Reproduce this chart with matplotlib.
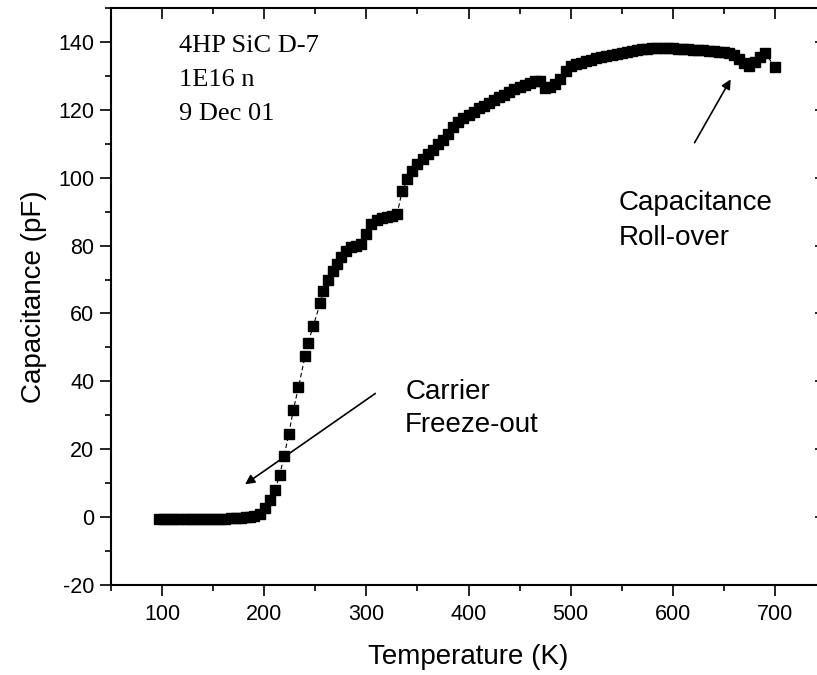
import matplotlib
matplotlib.use('Agg')
import matplotlib.pyplot as plt

plt.rcParams['axes.unicode_minus'] = False

# temperature (K) and capacitance (pF)
temperature = [97, 102, 107, 112, 117, 122, 127, 132, 137, 142, 147, 152, 157, 162,
               167, 172, 177, 182, 186, 190, 196, 201, 205.5, 210.5, 215, 219.5, 224,
               228.5, 233.5, 240, 243, 248, 255, 258, 262, 267, 271, 275, 280, 285,
               290, 295, 300, 305, 310, 315, 320, 325, 330, 335, 340, 345, 350, 355,
               360, 365, 370, 375, 380, 385, 390, 395, 400, 405, 410, 415, 420, 425,
               430, 435, 440, 445, 450, 455, 460, 465, 470, 475, 480, 485, 490, 495,
               500, 505, 510, 515, 520, 525, 530, 535, 540, 545, 550, 555, 560, 565,
               570, 575, 580, 585, 590, 595, 600, 605, 610, 615, 620, 625, 630, 635,
               640, 645, 650, 655, 660, 665, 670, 675, 680, 685, 690, 700]
capacitance = [-0.6, -0.6, -0.6, -0.6, -0.6, -0.6, -0.6, -0.6, -0.6, -0.6, -0.6, -0.5,
               -0.5, -0.5, -0.4, -0.3, -0.2, -0.1, 0.0, 0.3, 1.0, 2.6, 5.0, 8.0, 12.3,
               18.0, 24.4, 31.6, 38.2, 47.5, 51.4, 56.3, 63.2, 66.6, 70.0, 72.5, 74.5,
               76.5, 78.3, 79.5, 80.0, 80.6, 83.5, 86.5, 87.6, 88.0, 88.3, 88.8, 89.2,
               96.0, 99.5, 102.0, 104.0, 105.5, 107.0, 108.3, 109.8, 111.2, 113.0,
               114.8, 116.3, 117.6, 118.5, 119.5, 120.5, 121.2, 122.0, 123.0, 123.8,
               124.5, 125.3, 126.0, 126.8, 127.4, 128.0, 128.4, 128.6, 126.5, 126.8,
               127.6, 129.0, 131.5, 133.0, 133.4, 133.8, 134.3, 134.8, 135.2, 135.6,
               135.9, 136.2, 136.5, 136.8, 137.1, 137.4, 137.6, 137.8, 138.0, 138.1,
               138.2, 138.2, 138.2, 138.1, 138.0, 137.9, 137.8, 137.7, 137.6, 137.5,
               137.4, 137.3, 137.1, 136.9, 136.6, 136.2, 135.0, 133.8, 132.8, 134.0,
               135.5, 136.8, 132.7]

sample_info = ['4HP SiC D-7', '1E16 n', '9 Dec 01']

fig = plt.figure(figsize=(8.17, 6.75), dpi=100)
# axes run past the right edge, as in the cropped original
ax = fig.add_axes([111 / 817, 90 / 675, 715 / 817, 577 / 675])

ax.plot(temperature, capacitance, color='black', lw=0.8, ls=(0, (4, 2.5)),
        marker='s', ms=7.3, mfc='black', mec='black', clip_on=False)

ax.set_xlim(50, 750)
ax.set_ylim(-20, 150)
ax.set_xticks(range(100, 701, 100))
ax.set_xticks(range(50, 751, 50), minor=True)
ax.set_yticks(range(-20, 141, 20))
ax.set_yticks(range(-20, 151, 10), minor=True)

for s in ax.spines.values():
    s.set_linewidth(1.5)
ax.tick_params(which='both', width=1.2, labelsize=15.5, direction='out',
               top=True, right=True, pad=4)
ax.tick_params(which='major', length=8)
ax.tick_params(which='minor', length=4.5)
ax.tick_params(axis='x', which='major', pad=6)
for t in ax.xaxis.get_major_ticks() + ax.xaxis.get_minor_ticks():
    t.tick2line.set_marker(3)  # tick pointing down from the top spine
for t in ax.yaxis.get_major_ticks() + ax.yaxis.get_minor_ticks():
    t.tick2line.set_marker(0)  # tick pointing left from the right spine

for lab in ax.get_xticklabels() + ax.get_yticklabels():
    lab.set_fontfamily('Liberation Sans')

ax.set_xlabel('Temperature (K)', fontsize=20, family='Liberation Sans', labelpad=13)
ax.set_ylabel('Capacitance (pF)', fontsize=20, family='Liberation Sans', labelpad=8)

for i, line in enumerate(sample_info):
    ax.text(116.5, 137.1 - i * 10, line, fontsize=19, family='Liberation Serif',
            va='baseline', ha='left')

ax.text(338, 34.8, 'Carrier', fontsize=20, family='Liberation Sans', va='baseline')
ax.text(338, 25.1, 'Freeze-out', fontsize=20, family='Liberation Sans', va='baseline')
ax.text(547, 90.5, 'Capacitance', fontsize=20, family='Liberation Sans', va='baseline')
ax.text(547, 80.2, 'Roll-over', fontsize=20, family='Liberation Sans', va='baseline')

ax.annotate('', xy=(179, 9.2), xytext=(311, 36.9),
            arrowprops=dict(arrowstyle='-|>', color='black', lw=1.2, mutation_scale=14))
ax.annotate('', xy=(658, 129.7), xytext=(620, 109.6),
            arrowprops=dict(arrowstyle='-|>', color='black', lw=1.2, mutation_scale=14))

fig.savefig('out.png', dpi=100)
